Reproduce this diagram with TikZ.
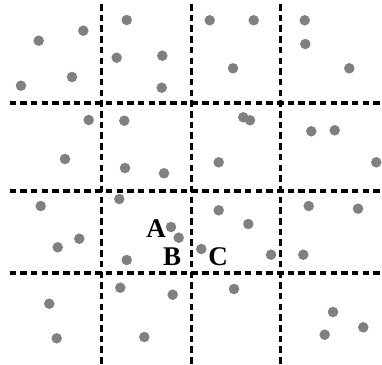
\documentclass[tikz,border=0pt]{standalone}
\usepackage{fontspec}
\setmainfont{Liberation Serif}
\begin{document}
\begin{tikzpicture}[x=1pt,y=-1pt,
  gridline/.style={line width=3.2pt,dash pattern=on 6.5pt off 4.2pt,black},
  dot/.style={circle,fill=black!50,inner sep=0pt,minimum size=10.5pt},
  lab/.style={inner sep=0pt,font=\fontsize{27}{27}\selectfont\bfseries}]
\useasboundingbox (0,0) rectangle (382,364);
% dashed grid
\foreach \x in {101.7,191.5,280.4}
  \draw[gridline] (\x,4) -- (\x,364);
\foreach \y in {103,191,273}
  \draw[gridline] (9.5,\y) -- (382,\y);
% scattered points
\foreach [count=\i] \px/\py in {
  126.7/20, 83.3/30.7, 38.7/40.7, 116.7/57.7, 162.3/55.7, 72/77, 21/85.7,
  161.7/87.7, 88.7/120, 124.3/120.7, 65/159, 125/168, 164/173.3,
  209.7/20.3, 253.7/20.3, 304.7/20.3, 305.3/44, 233/68.3, 349.3/68.3,
  243.3/117.3, 250/120.3, 311.3/131.3, 334.7/130.3, 218.7/162.3, 376.3/162.3,
  119.3/199, 40.7/206, 171/227, 178.7/237.7, 79.3/238.7, 57.7/247.3,
  126.7/260, 120.3/287.7, 172.7/294.7, 49.3/303.7, 56.7/338.3, 144.3/337,
  218.7/210.3, 308.7/206, 358/208.7, 248.3/224, 201.3/249, 271/254.7,
  303.3/254.7, 234/289, 333/312, 363.3/327.3, 324.7/334.7}
  \node[dot] (d\i) at (\px,\py) {};
% labels
\node[lab] (A) at (156.2,228.7) {A};
\node[lab] (B) at (172.2,256.5) {B};
\node[lab] (C) at (218,256.2) {C};
\end{tikzpicture}
\end{document}
